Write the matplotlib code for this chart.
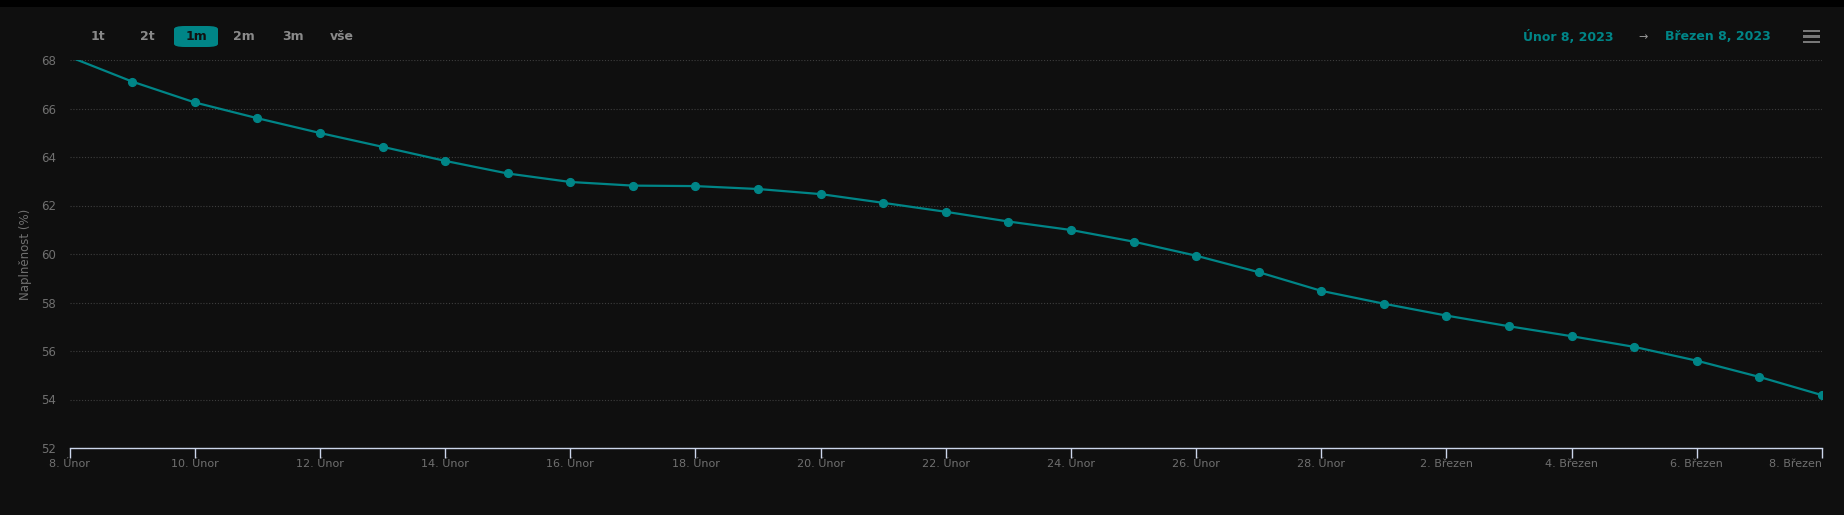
import datetime as dt
import matplotlib
matplotlib.use("Agg")
import matplotlib.pyplot as plt
from matplotlib.patches import FancyBboxPatch, Rectangle

# data (fullness in %)
start = dt.date(2023, 2, 8)
values = [68.13, 67.11, 66.25, 65.60, 64.99, 64.42, 63.84, 63.32, 62.97, 62.82,
          62.80, 62.68, 62.47, 62.11, 61.74, 61.34, 60.99, 60.51, 59.93, 59.25,
          58.48, 57.95, 57.46, 57.02, 56.61, 56.17, 55.60, 54.93, 54.18]
dates = [start + dt.timedelta(days=i) for i in range(len(values))]
months_cz = {2: "Únor", 3: "Březen"}
buttons = ["1t", "2t", "1m", "2m", "3m", "vše"]
date_from = "Únor 8, 2023"
date_to = "Březen 8, 2023"
ylabel = "Naplněnost (%)"

BG = "#0f0f0f"
TEAL = "#008587"
GREY = "#707070"

W, H = 1844, 515
fig = plt.figure(figsize=(W / 100, H / 100), dpi=100, facecolor=BG)
fig.patches.append(Rectangle((0, 1 - 7 / H), 1, 7 / H, transform=fig.transFigure,
                             facecolor="#000000", edgecolor="none"))

ax = fig.add_axes([69.6 / W, 1 - 448 / H, (1822 - 69.6) / W, (448 - 60) / H])
ax.set_facecolor(BG)

ax.plot(dates, values, color=TEAL, lw=1.6, marker="o", markersize=5.6,
        markevery=list(range(1, len(values))), zorder=3)

ax.set_ylim(52, 68)
ax.set_xlim(dates[0], dates[-1])
ax.set_yticks(range(52, 69, 2))
ax.grid(axis="y", color="#3e3e3e", linestyle=(0, (1, 1.6)), lw=0.8)
ax.set_axisbelow(True)

tick_dates = dates[::2]
ax.set_xticks(tick_dates)
ax.set_xticklabels([f"{d.day}. {months_cz[d.month]}" for d in tick_dates])
ax.get_xticklabels()[-1].set_horizontalalignment("right")

for s in ["top", "right", "left"]:
    ax.spines[s].set_visible(False)
ax.spines["bottom"].set_color("#ccd6eb")
ax.spines["bottom"].set_linewidth(1)
ax.tick_params(axis="x", colors="#ccd6eb", length=7, width=1, labelcolor=GREY,
               labelsize=8, pad=1)
ax.tick_params(axis="y", length=0, labelcolor=GREY, labelsize=8.5, pad=10)
ax.set_ylabel(ylabel, color=GREY, fontsize=8.5, labelpad=6)

# range selector buttons
btn_x = [98, 147, 196, 244, 293, 342]
for lab, x in zip(buttons, btn_x):
    if lab == "1m":
        fig.patches.append(FancyBboxPatch(((x - 22) / W, 1 - 47 / H), 44 / W, 21 / H,
                                          boxstyle="round,pad=0,rounding_size=0.006",
                                          transform=fig.transFigure,
                                          facecolor=TEAL, edgecolor="none"))
        col = "#111111"
    else:
        col = "#8a8a8a"
    fig.text(x / W, 1 - 37 / H, lab, color=col, fontsize=9, fontweight="bold",
             ha="center", va="center")

fig.text(1568 / W, 1 - 37 / H, date_from, color=TEAL, fontsize=9, fontweight="bold",
         ha="center", va="center")
fig.text(1643 / W, 1 - 37 / H, "→", color="#9a9a9a", fontsize=8,
         ha="center", va="center")
fig.text(1718 / W, 1 - 37 / H, date_to, color=TEAL, fontsize=9, fontweight="bold",
         ha="center", va="center")
for yy in (31, 36.5, 42):
    fig.patches.append(Rectangle((1803 / W, 1 - (yy + 1.2) / H), 17 / W, 2.6 / H,
                                 transform=fig.transFigure,
                                 facecolor="#777777", edgecolor="none"))

fig.savefig("out.png", dpi=100, facecolor=BG)
